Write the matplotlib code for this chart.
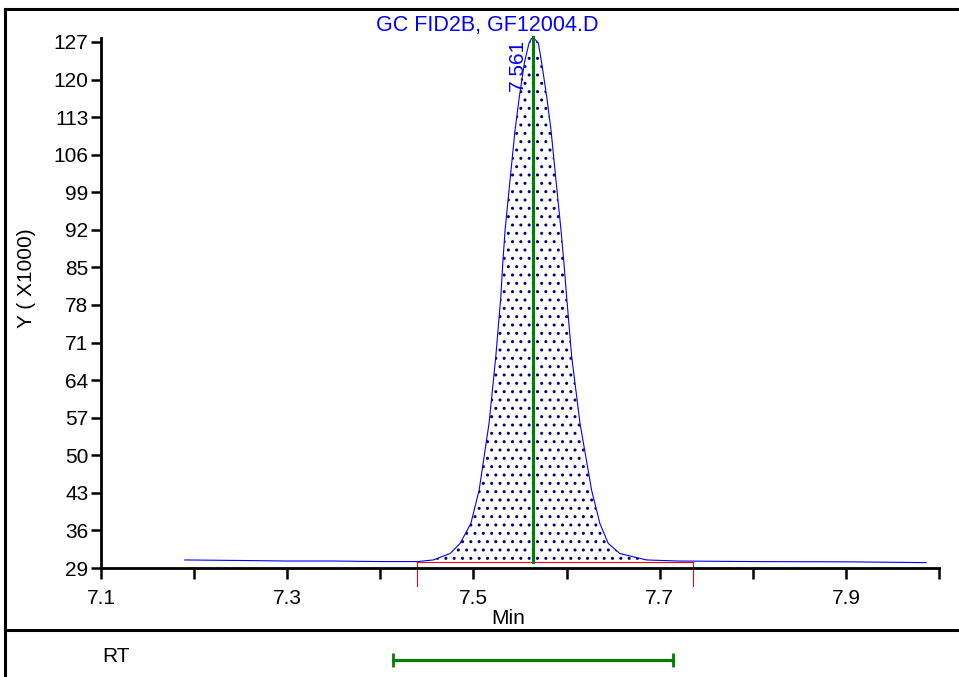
import matplotlib
matplotlib.use('Agg')
import matplotlib.pyplot as plt
from matplotlib.lines import Line2D

# trace (retention time in min, signal in x1000)
rt_min = [7.190, 7.250, 7.300, 7.350, 7.400, 7.440, 7.4568, 7.4750, 7.4857,
          7.4972, 7.5061, 7.5168, 7.5240, 7.5294, 7.5315, 7.5340, 7.5393,
          7.5447, 7.5493, 7.5547, 7.5597, 7.5635, 7.5697, 7.5733, 7.5787,
          7.5833, 7.5886, 7.5940, 7.5972, 7.6001, 7.6055, 7.6144, 7.6269,
          7.6358, 7.6447, 7.6572, 7.6859, 7.720, 7.800, 7.900, 7.986]
signal_k = [30.5, 30.4, 30.3, 30.3, 30.2, 30.2, 30.5, 31.7, 33.6,
            37.3, 43.5, 56.0, 68.4, 79.5, 85.8, 92.0, 101.3,
            110.6, 116.8, 123.1, 126.8, 128.0, 126.8, 123.1, 116.8,
            110.6, 101.3, 92.0, 85.8, 79.5, 68.4, 56.0, 43.5,
            37.3, 33.6, 31.7, 30.5, 30.3, 30.2, 30.15, 30.0]

peak_label = '7.561'
peak_x = 7.5635
peak_top = 128.0
base_start, base_end = 7.439, 7.736
base_level = 30.17
rt_window = [7.414, 7.714]

y_ticks = [29, 36, 43, 50, 57, 64, 71, 78, 85, 92, 99, 106, 113, 120, 127]
x_ticks = [7.1, 7.2, 7.3, 7.4, 7.5, 7.6, 7.7, 7.8, 7.9, 8.0]
x_labels = ['7.1', '', '7.3', '', '7.5', '', '7.7', '', '7.9', '']

plt.rcParams['font.family'] = ['Liberation Sans', 'DejaVu Sans']
plt.rcParams['hatch.linewidth'] = 1.0
FS = 15

W, H = 959, 677
fig = plt.figure(figsize=(W / 100, H / 100), dpi=100)

ax = fig.add_axes([101 / W, 1 - 568 / H, 838 / W, (568 - 37.7) / H])
ax.set_xlim(7.1, 8.0)
ax.set_ylim(29, 127.8)

# integrated area, dotted
in_win = [(base_start <= x <= base_end) for x in rt_min]
ax.fill_between(rt_min, signal_k, base_level, where=in_win, interpolate=True,
                facecolor='white', edgecolor='#000080', hatch='..', linewidth=0)
ax.plot(rt_min, signal_k, color='#0000ff', lw=0.8)

# baseline + start/end markers
ax.plot([base_start, base_end], [base_level, base_level], color='#ff0000', lw=0.8)
for xb in (base_start, base_end):
    ax.plot([xb, xb], [base_level, 25.6], color='#ff0000', lw=0.8, clip_on=False)

ax.plot([peak_x, peak_x], [base_level, peak_top], color='#008000', lw=2.2, clip_on=False)
ax.text(peak_x - 0.006, 127.6, peak_label, rotation=90, ha='right', va='top',
        color='#0000ff', fontsize=FS)

for s in ['top', 'right']:
    ax.spines[s].set_visible(False)
for s in ['left', 'bottom']:
    ax.spines[s].set_linewidth(2)
ax.set_xticks(x_ticks)
ax.set_xticklabels(x_labels)
ax.set_yticks(y_ticks)
ax.tick_params(axis='x', length=8, width=1.8, pad=7, labelsize=FS)
ax.tick_params(axis='y', length=7, width=1.8, pad=2, labelsize=FS)

ax.set_xlabel('Min', fontsize=FS)
ax.xaxis.set_label_coords((508 - 101) / 838, -0.077)

fig.text(26.5 / W, 1 - 278 / H, 'Y ( X1000)', rotation=90, ha='center', va='center', fontsize=FS)
fig.text(487 / W, 1 - 25 / H, 'GC FID2B, GF12004.D', ha='center', va='center',
         color='#0000ff', fontsize=15.5)

# frame lines
frame = [([5 / W, 1], [1 - 8.5 / H, 1 - 8.5 / H]),
         ([5 / W, 5 / W], [1 - 8.5 / H, 0]),
         ([5 / W, 1], [1 - 630 / H, 1 - 630 / H])]
for fx, fy in frame:
    fig.add_artist(Line2D(fx, fy, transform=fig.transFigure, color='black', lw=2.2))

# RT window panel
rt_ax = fig.add_axes([101 / W, 0, 838 / W, 47 / H])
rt_ax.set_xlim(7.1, 8.0)
rt_ax.set_ylim(0, 1)
rt_ax.axis('off')
rt_ax.plot(rt_window, [0.36, 0.36], color='#008000', lw=2.2, marker='|', ms=10, mew=2)
fig.text(102 / W, 1 - 656 / H, 'RT', ha='left', va='center', fontsize=FS)

fig.savefig('out.png', dpi=100)
